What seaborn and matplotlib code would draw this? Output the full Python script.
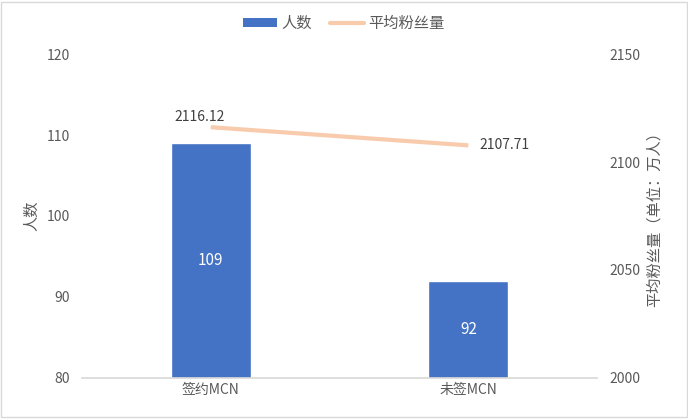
import matplotlib.pyplot as plt
import numpy as np
import pandas as pd
import seaborn as sns

categories = ['签约MCN', '未签MCN']
people = [109, 92]
avg_fans = [2116.12, 2107.71]

BAR_COLOR = '#4472C4'
LINE_COLOR = '#F8CBAD'
TEXT_COLOR = '#595959'

sns.set_theme(style='white')
plt.rcParams['font.family'] = ['Noto Sans CJK SC', 'DejaVu Sans']

fig = plt.figure(figsize=(6.88, 4.19), dpi=100)
ax = fig.add_axes([0.119, 0.098, 0.749, 0.773])

df = pd.DataFrame({'cat': categories, 'people': people, 'fans': avg_fans})
sns.barplot(data=df, x='cat', y='people', color=BAR_COLOR, width=0.31,
            saturation=1, ax=ax)
ax.set_ylim(80, 120)
ax.set_yticks([80, 90, 100, 110, 120])
ax.set_xlim(-0.5, 1.5)
ax.set_xlabel('')
ax.set_ylabel('人数', color=TEXT_COLOR, fontsize=11, labelpad=5)
ax.tick_params(axis='y', colors=TEXT_COLOR, labelsize=10, length=0, pad=8.5)
ax.tick_params(axis='x', colors=TEXT_COLOR, labelsize=10, length=0, pad=4)
for s in ['top', 'left', 'right']:
    ax.spines[s].set_visible(False)
ax.spines['bottom'].set_color('#D9D9D9')
ax.set_xticks([-0.5, 0.5, 1.5], minor=True)
ax.tick_params(axis='x', which='minor', length=4, color='#D9D9D9', direction='out')

for i, v in enumerate(people):
    ax.text(i, (80 + v) / 2, str(v), ha='center', va='center', color='white', fontsize=11)

ax2 = ax.twinx()
pos = np.arange(len(categories))
ax2.plot(pos, avg_fans, color=LINE_COLOR, lw=3, solid_capstyle='butt')
ax2.set_ylim(2000, 2150)
ax2.set_yticks([2000, 2050, 2100, 2150])
ax2.tick_params(axis='y', colors=TEXT_COLOR, labelsize=10, length=0, pad=8.5)
ax2.set_ylabel('平均粉丝量（单位：万人）', color=TEXT_COLOR, fontsize=11, labelpad=4)
for s in ['top', 'left', 'right', 'bottom']:
    ax2.spines[s].set_visible(False)

ax2.annotate(f'{avg_fans[0]:.2f}', (pos[0], avg_fans[0]), xytext=(-8, 2),
             textcoords='offset points', ha='center', va='bottom', color='#404040', fontsize=10)
ax2.annotate(f'{avg_fans[1]:.2f}', (pos[1], avg_fans[1]), xytext=(8, 0),
             textcoords='offset points', ha='left', va='center', color='#404040', fontsize=10)

handles = [plt.Rectangle((0, 0), 1, 1, fc=BAR_COLOR, ec='none'),
           plt.Line2D([], [], color=LINE_COLOR, lw=3)]
fig.legend(handles, ['人数', '平均粉丝量'], loc='upper center', bbox_to_anchor=(0.5, 0.997), ncol=2,
           frameon=False, fontsize=11, labelcolor=TEXT_COLOR, handlelength=2.2,
           handleheight=0.5, columnspacing=1.2, handletextpad=0.3)

fig.patches.append(plt.Rectangle((0.002, 0.004), 0.996, 0.992, transform=fig.transFigure,
                                 fill=False, ec='#D9D9D9', lw=1))

fig.savefig('out.png', dpi=100)
